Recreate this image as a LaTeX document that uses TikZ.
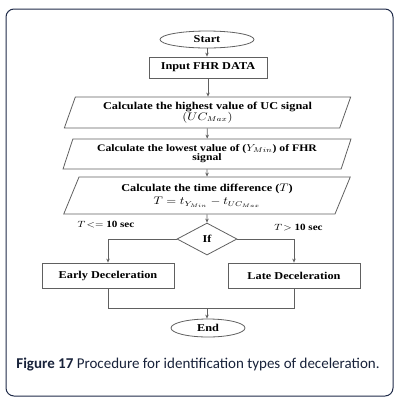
\documentclass[tikz,border=0pt]{standalone}
\usepackage{fontspec}
\setmainfont{Liberation Serif}
\newfontfamily\capfont{Carlito}
\usetikzlibrary{shapes.geometric,arrows.meta,calc}
\definecolor{frame}{HTML}{1E2A48}
\definecolor{ln}{HTML}{606060}
\newcommand\sx[1]{\scalebox{1.17}[1]{#1}}
\newcommand\twol[2]{\sx{\begin{tabular}{@{}c@{}}#1\\#2\end{tabular}}}
\begin{document}
\begin{tikzpicture}[x=1pt,y=-1pt,
  txt/.style={font=\fontsize{10.5}{11}\selectfont\bfseries, align=center, text=black},
  term/.style={draw=ln, line width=0.8pt, ellipse, inner sep=0pt, txt},
  proc/.style={draw=ln, line width=0.8pt, rectangle, inner sep=0pt, txt},
  para/.style={draw=ln, line width=0.8pt, trapezium, trapezium left angle=68, trapezium right angle=112,
     trapezium stretches=true, inner sep=0pt, txt},
  dec/.style={draw=ln, line width=0.8pt, diamond, inner sep=0pt, txt},
  conn/.style={draw=ln, line width=0.8pt, -{Stealth[length=4pt,width=3.5pt]}},
  plain/.style={draw=ln, line width=0.8pt},
  lbl/.style={font=\fontsize{9.5}{11}\selectfont\bfseries, text=black}
]
\useasboundingbox (0,0) rectangle (401,400);
\draw[frame, line width=1pt, rounded corners=8pt] (6,9) rectangle (393,396);

\node[term, minimum width=94pt, minimum height=17pt] (start) at (207,39.5) {\sx{Start}};
\node[proc, minimum width=118pt, minimum height=21pt] (input) at (208,67.5) {\sx{Input FHR DATA}};
\node[para, minimum width=287pt, minimum height=31pt] (p1) at (207.5,112.5)
  {\renewcommand\arraystretch{0.9}\twol{Calculate the highest value of UC signal}{$(UC_{Max})$}};
\node[para, minimum width=288pt, minimum height=30pt, font=\fontsize{10}{11}\selectfont\bfseries] (p2) at (207,154)
  {\renewcommand\arraystretch{0.9}\twol{Calculate the lowest value of ($Y_{Min}$) of FHR}{signal}};
\node[para, minimum width=287pt, minimum height=37pt] (p3) at (207,195.5)
  {\renewcommand\arraystretch{1.15}\twol{Calculate the time difference ($T$)}{$T = t_{Y_{Min}} - t_{UC_{Max}}$}};
\node[dec, minimum width=60pt, minimum height=32pt] (if) at (207,239) {\sx{If}};
\node[proc, minimum width=132pt, minimum height=25pt] (early) at (108,275.5) {\sx{Early Deceleration}};
\node[proc, minimum width=132pt, minimum height=25pt] (late) at (294,275.5) {\sx{Late Deceleration}};
\coordinate (join) at (207,308);
\node[term, minimum width=74pt, minimum height=18pt] (end) at (208,328) {\sx{End}};

\draw[conn] (start) -- (start |- input.north);
\draw[conn] (input) -- (input |- p1.north);
\draw[conn] (p1) -- (p2);
\draw[conn] (p2) -- (p3);
\draw[conn] (p3) -- (if);
\draw[conn] (if.west) -| (early.north);
\draw[conn] (if.east) -| (late.north);
\draw[plain] (early.south) |- (join);
\draw[plain] (late.south) |- (join);
\draw[conn] (join) -- (join |- end.north);

\node[lbl] (lt) at (106,225) {\sx{$T\!<=$ 10 sec}};
\node[lbl] (gt) at (298.5,228) {\sx{$T\!>$ 10 sec}};

\node[font=\capfont\fontsize{15}{16}\selectfont, text=frame!80!black] (cap) at (198,364)
  {\textbf{Figure 17} Procedure for identification types of deceleration.};
\end{tikzpicture}
\end{document}
